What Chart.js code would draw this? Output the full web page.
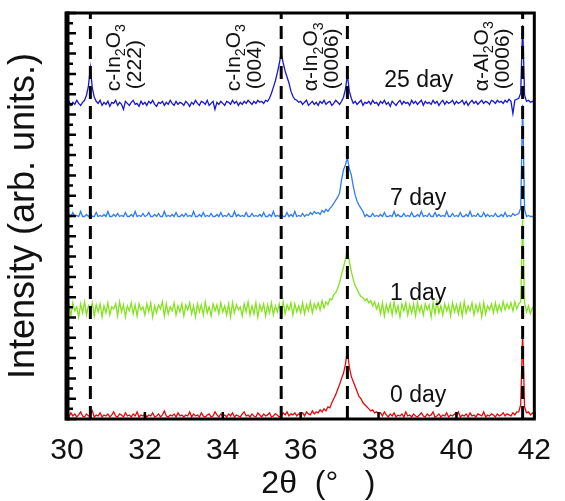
<!DOCTYPE html>
<html>
<head>
<meta charset="utf-8">
<script src="https://cdn.jsdelivr.net/npm/chart.js@4.4.1/dist/chart.umd.min.js"></script>
<style>
  html, body { margin: 0; padding: 0; background: #fff; }
  #wrap { width: 565px; height: 501px; }
</style>
</head>
<body>
<div id="wrap"><canvas id="xrd" width="565" height="501"></canvas></div>
<script>
// 2-theta grid (deg), one row per degree
const twoTheta = [
  30.00, 30.05, 30.10, 30.15, 30.20, 30.25, 30.30, 30.35, 30.40, 30.45, 30.50, 30.55, 30.60, 30.65, 30.70, 30.75, 30.80, 30.85, 30.90, 30.95,
  31.00, 31.05, 31.10, 31.15, 31.20, 31.25, 31.30, 31.35, 31.40, 31.45, 31.50, 31.55, 31.60, 31.65, 31.70, 31.75, 31.80, 31.85, 31.90, 31.95,
  32.00, 32.05, 32.10, 32.15, 32.20, 32.25, 32.30, 32.35, 32.40, 32.45, 32.50, 32.55, 32.60, 32.65, 32.70, 32.75, 32.80, 32.85, 32.90, 32.95,
  33.00, 33.05, 33.10, 33.15, 33.20, 33.25, 33.30, 33.35, 33.40, 33.45, 33.50, 33.55, 33.60, 33.65, 33.70, 33.75, 33.80, 33.85, 33.90, 33.95,
  34.00, 34.05, 34.10, 34.15, 34.20, 34.25, 34.30, 34.35, 34.40, 34.45, 34.50, 34.55, 34.60, 34.65, 34.70, 34.75, 34.80, 34.85, 34.90, 34.95,
  35.00, 35.05, 35.10, 35.15, 35.20, 35.25, 35.30, 35.35, 35.40, 35.45, 35.50, 35.55, 35.60, 35.65, 35.70, 35.75, 35.80, 35.85, 35.90, 35.95,
  36.00, 36.05, 36.10, 36.15, 36.20, 36.25, 36.30, 36.35, 36.40, 36.45, 36.50, 36.55, 36.60, 36.65, 36.70, 36.75, 36.80, 36.85, 36.90, 36.95,
  37.00, 37.05, 37.10, 37.15, 37.20, 37.25, 37.30, 37.35, 37.40, 37.45, 37.50, 37.55, 37.60, 37.65, 37.70, 37.75, 37.80, 37.85, 37.90, 37.95,
  38.00, 38.05, 38.10, 38.15, 38.20, 38.25, 38.30, 38.35, 38.40, 38.45, 38.50, 38.55, 38.60, 38.65, 38.70, 38.75, 38.80, 38.85, 38.90, 38.95,
  39.00, 39.05, 39.10, 39.15, 39.20, 39.25, 39.30, 39.35, 39.40, 39.45, 39.50, 39.55, 39.60, 39.65, 39.70, 39.75, 39.80, 39.85, 39.90, 39.95,
  40.00, 40.05, 40.10, 40.15, 40.20, 40.25, 40.30, 40.35, 40.40, 40.45, 40.50, 40.55, 40.60, 40.65, 40.70, 40.75, 40.80, 40.85, 40.90, 40.95,
  41.00, 41.05, 41.10, 41.15, 41.20, 41.25, 41.30, 41.35, 41.40, 41.45, 41.50, 41.55, 41.60, 41.65, 41.70, 41.75, 41.80, 41.85, 41.90, 41.95,
  42.00
];

// intensities (arb. units), above its own baseline
const day0 = [
  0.3, 0.1, 0.5, 0.2, 0.4, 0.1, 0.3, 0.6, 0.2, 0.1, 0.4, 0.2, 0.3, 0.7, 0.1, 0.3, 0.2, 0.5, 0.1, 0.3,
  0.2, 0.4, 0.1, 0.3, 0.6, 0.2, 0.1, 0.4, 0.3, 0.1, 0.5, 0.2, 0.3, 0.1, 0.4, 0.2, 0.6, 0.1, 0.3, 0.2,
  0.4, 0.1, 0.3, 0.2, 0.5, 0.1, 0.2, 0.4, 0.1, 0.3, 0.7, 0.2, 0.1, 0.3, 0.2, 0.4, 0.1, 0.5, 0.2, 0.3,
  0.1, 0.3, 0.2, 0.6, 0.1, 0.4, 0.2, 0.3, 0.1, 0.5, 0.2, 0.1, 0.3, 0.4, 0.1, 0.2, 0.6, 0.3, 0.1, 0.4,
  0.2, 0.3, 0.1, 0.4, 0.2, 0.5, 0.1, 0.3, 0.2, 0.1, 0.4, 0.6, 0.2, 0.3, 0.1, 0.4, 0.2, 0.1, 0.5, 0.3,
  0.1, 0.4, 0.2, 0.3, 0.5, 0.1, 0.2, 0.4, 0.3, 0.1, 0.2, 0.5, 0.3, 0.6, 0.2, 0.4, 0.3, 0.5, 0.2, 0.4,
  0.3, 0.5, 0.2, 0.6, 0.4, 0.3, 0.7, 0.4, 0.6, 0.5, 0.8, 0.6, 0.9, 0.7, 1.1, 1.0, 1.5, 1.9, 2.3, 2.8,
  3.3, 3.9, 4.4, 5.3, 6.6, 5.0, 4.1, 3.6, 3.1, 2.6, 2.1, 1.9, 1.5, 1.3, 1.1, 0.9, 0.7, 0.8, 0.5, 0.6,
  0.4, 0.5, 0.2, 0.6, 0.3, 0.1, 0.4, 0.2, 0.5, 0.1, 0.3, 0.2, 0.4, 0.1, 0.6, 0.2, 0.3, 0.1, 0.4, 0.2,
  0.1, 0.3, 0.5, 0.2, 0.1, 0.4, 0.2, 0.3, 0.6, 0.1, 0.2, 0.4, 0.1, 0.3, 0.2, 0.5, 0.1, 0.3, 0.2, 0.4,
  0.2, 0.6, 0.1, 0.3, 0.2, 0.4, 0.1, 0.5, 0.2, 0.3, 0.1, 0.4, 0.3, 0.2, 0.6, 0.1, 0.3, 0.2, 0.4, 0.3,
  0.1, 0.4, 0.2, 0.3, 0.5, 0.2, 0.4, 0.3, 0.2, 0.5, 0.3, 0.6, 0.6, 1.3, 8.4, 1.1, 0.5, 0.6, 0.3, 0.5,
  0.3
];
const day1 = [
  0.4, 1.3, 0.2, 1.5, 0.7, 1.1, 0.1, 1.4, 0.5, 1.6, 0.3, 1.2, 0.8, 1.5, 0.2, 1.3, 0.6, 1.4, 0.1, 1.2,
  0.5, 1.5, 0.3, 1.1, 0.9, 1.4, 0.2, 1.6, 0.6, 1.3, 0.1, 1.2, 0.7, 1.5, 0.4, 1.3, 0.2, 1.4, 0.8, 1.1,
  0.3, 1.4, 0.6, 1.5, 0.1, 1.2, 0.5, 1.3, 0.9, 1.6, 0.2, 1.4, 0.4, 1.1, 0.7, 1.5, 0.3, 1.2, 0.6, 1.4,
  0.2, 1.3, 0.8, 1.5, 0.4, 1.2, 0.1, 1.4, 0.6, 1.3, 0.3, 1.6, 0.5, 1.1, 0.2, 1.4, 0.7, 1.3, 0.4, 1.5,
  0.6, 1.2, 0.3, 1.4, 0.1, 1.5, 0.5, 1.3, 0.8, 1.1, 0.2, 1.4, 0.6, 1.6, 0.3, 1.2, 0.4, 1.5, 0.1, 1.3,
  0.7, 1.4, 0.2, 1.3, 0.5, 1.5, 0.3, 1.2, 0.6, 1.4, 0.1, 1.6, 0.4, 1.3, 0.8, 1.5, 0.3, 1.4, 0.6, 1.2,
  0.5, 1.5, 0.4, 1.3, 0.7, 1.6, 0.5, 1.4, 0.9, 1.5, 0.8, 1.7, 1.0, 1.6, 1.3, 1.9, 1.8, 2.3, 2.5, 2.9,
  3.5, 4.3, 5.0, 5.8, 6.7, 5.6, 4.6, 3.8, 3.2, 2.8, 2.4, 2.1, 2.0, 1.7, 1.9, 1.5, 1.7, 1.2, 1.6, 0.9,
  1.4, 0.4, 1.5, 0.2, 1.3, 0.6, 1.4, 0.3, 1.6, 0.5, 1.2, 0.1, 1.4, 0.7, 1.5, 0.3, 1.3, 0.5, 1.4, 0.2,
  1.5, 0.6, 1.2, 0.3, 1.4, 0.8, 1.3, 0.1, 1.5, 0.4, 1.6, 0.5, 1.2, 0.3, 1.4, 0.7, 1.3, 0.2, 1.5, 0.6,
  1.3, 0.4, 1.4, 0.2, 1.6, 0.5, 1.2, 0.7, 1.5, 0.3, 1.3, 0.6, 1.4, 0.1, 1.5, 0.4, 1.2, 0.8, 1.4, 0.5,
  1.5, 0.6, 1.3, 0.7, 1.6, 0.8, 1.4, 0.9, 1.5, 0.7, 1.6, 0.9, 1.4, 1.6, 9.7, 1.5, 0.6, 1.2, 0.4, 1.0,
  0.8
];
const day7 = [
  0.1, 0.3, 0.1, 0.5, 0.1, 0.2, 0.1, 0.6, 0.1, 0.1, 0.3, 0.1, 0.4, 0.1, 0.1, 0.5, 0.1, 0.2, 0.1, 0.3,
  0.1, 0.6, 0.1, 0.1, 0.3, 0.1, 0.4, 0.1, 0.2, 0.1, 0.5, 0.1, 0.1, 0.3, 0.1, 0.6, 0.1, 0.2, 0.1, 0.4,
  0.1, 0.2, 0.5, 0.1, 0.1, 0.3, 0.1, 0.4, 0.1, 0.1, 0.6, 0.1, 0.2, 0.1, 0.3, 0.1, 0.5, 0.1, 0.1, 0.3,
  0.1, 0.4, 0.1, 0.2, 0.1, 0.6, 0.1, 0.1, 0.3, 0.1, 0.5, 0.1, 0.2, 0.1, 0.4, 0.1, 0.1, 0.3, 0.1, 0.5,
  0.1, 0.2, 0.1, 0.4, 0.1, 0.1, 0.6, 0.1, 0.3, 0.1, 0.2, 0.1, 0.5, 0.1, 0.1, 0.4, 0.1, 0.2, 0.1, 0.3,
  0.1, 0.5, 0.1, 0.1, 0.3, 0.1, 0.6, 0.1, 0.2, 0.1, 0.4, 0.1, 0.1, 0.5, 0.1, 0.3, 0.1, 0.6, 0.1, 0.2,
  0.1, 0.4, 0.1, 0.3, 0.2, 0.5, 0.3, 0.6, 0.4, 0.5, 0.3, 0.7, 0.5, 0.8, 0.6, 0.9, 1.1, 1.4, 1.7, 2.0,
  2.4, 3.7, 4.7, 5.2, 5.85, 4.8, 4.2, 3.1, 2.2, 1.6, 1.2, 0.9, 0.6, 0.1, 0.3, 0.1, 0.1, 0.4, 0.1, 0.2,
  0.1, 0.3, 0.1, 0.5, 0.1, 0.1, 0.2, 0.1, 0.6, 0.1, 0.3, 0.1, 0.1, 0.4, 0.1, 0.2, 0.1, 0.5, 0.1, 0.1,
  0.3, 0.1, 0.6, 0.1, 0.2, 0.1, 0.4, 0.1, 0.1, 0.5, 0.1, 0.3, 0.1, 0.2, 0.1, 0.6, 0.1, 0.1, 0.4, 0.1,
  0.2, 0.1, 0.5, 0.1, 0.1, 0.3, 0.1, 0.6, 0.1, 0.2, 0.1, 0.4, 0.1, 0.1, 0.5, 0.1, 0.3, 0.1, 0.2, 0.1,
  0.4, 0.1, 0.1, 0.3, 0.1, 0.5, 0.1, 0.2, 0.1, 0.4, 0.2, 0.3, 0.4, 0.9, 11.1, 0.8, 0.1, 0.2, 0.1, 0.1,
  0.1
];
const day25 = [
  0.4, 0.6, 0.2, 0.5, 0.3, 0.7, 0.4, 0.2, 0.5, 0.7, 1.2, 2.1, 3.9, 1.9, 1.0, 0.6, 0.4, 0.7, 0.2, 0.5,
  0.3, 0.6, 0.1, 0.5, 0.4, 0.7, 0.2, 0.5, 0.3, -0.2, 0.6, 0.4, 0.2, 0.5, 0.7, 0.3, 0.4, 0.1, 0.6, 0.3,
  0.5, 0.2, 0.6, 0.4, 0.7, 0.3, 0.1, 0.5, 0.4, 0.6, 0.2, 0.5, 0.3, 0.7, 0.4, 0.2, 0.6, 0.3, 0.5, 0.4,
  0.2, 0.6, 0.4, 0.1, 0.5, 0.3, 0.7, 0.4, 0.2, 0.6, 0.5, 0.3, 0.7, 0.2, 0.4, 0.6, -0.2, 0.5, 0.3, 0.6,
  0.4, 0.2, 0.6, 0.5, 0.3, 0.7, 0.4, 0.6, 0.2, 0.5, 0.3, 0.6, 0.4, 0.7, 0.5, 0.3, 0.6, 0.4, 0.7, 0.5,
  0.6, 0.4, 0.7, 0.6, 0.9, 1.4, 2.0, 2.6, 3.4, 4.3, 5.35, 4.4, 3.6, 3.0, 2.4, 1.6, 1.1, 0.8, 0.7, 0.5,
  0.6, 0.3, 0.5, 0.7, 0.2, 0.4, 0.6, 0.3, 0.5, 0.2, 0.6, 0.4, 0.7, 0.3, 0.5, 0.6, 0.2, 0.4, 0.7, 0.5,
  0.3, 0.6, 1.0, 1.8, 3.2, 1.6, 0.9, 0.4, 0.6, 0.3, 0.5, 0.7, 0.2, 0.5, 0.4, 0.6, 0.3, 0.7, 0.4, 0.5,
  0.2, 0.6, 0.4, 0.7, 0.3, 0.5, 0.1, 0.6, 0.4, 0.2, 0.5, 0.7, 0.3, 0.6, 0.4, 0.5, 0.2, 0.7, 0.4, 0.6,
  0.3, 0.5, 0.7, 0.2, 0.6, 0.4, 0.5, 0.3, 0.7, 0.4, 0.6, 0.2, 0.5, 0.7, 0.3, 0.6, 0.4, 0.5, 0.7, 0.3,
  0.6, 0.4, 0.5, 0.7, 0.3, 0.6, 0.2, 0.5, 0.7, 0.4, 0.6, 0.3, 0.5, 0.7, 0.4, 0.6, 0.5, 0.3, 0.7, 0.6,
  0.4, 0.7, 0.5, 0.6, 0.4, 0.7, 0.5, 0.8, 0.6, -0.6, 0.7, 0.8, 0.9, 1.4, 8.1, 1.2, 0.6, 0.7, 0.5, 0.6,
  0.5
];

const seriesNames = ['0 day', '1 day', '7 day', '25 day'];
const seriesValues = [day0, day1, day7, day25];
const seriesOffsets = [0.1, 9.95, 19.85, 30.7];
const seriesColors = ['#e60a0a', '#84e21f', '#2e7df5', '#1616d4'];

// reference reflections (deg)
const peakPositions = [30.6, 35.5, 37.2, 41.7];
const peakPhases = [
  [['c-In'], ['2', true], ['O'], ['3', true]],
  [['c-In'], ['2', true], ['O'], ['3', true]],
  [['\u03b1-In'], ['2', true], ['O'], ['3', true]],
  [['\u03b1-Al'], ['2', true], ['O'], ['3', true]]
];
const peakIndices = ['(222)', '(004)', '(0006)', '(0006)'];

const xMin = 30, xMax = 42, xStep = 2;
const yMin = 0, yMax = 40;

const FONT = '"Liberation Sans", Arial, Helvetica, sans-serif';

const datasets = seriesValues.map((vals, s) => ({
    label: seriesNames[s],
    data: twoTheta.map((t, i) => ({ x: t, y: vals[i] + seriesOffsets[s] })),
    borderColor: seriesColors[s],
    borderWidth: 1.3,
    pointRadius: 0,
    tension: 0,
    order: 2
}));

peakPositions.forEach(p => {
    datasets.push({
        data: [{ x: p, y: yMin }, { x: p, y: yMax }],
        borderColor: '#000',
        borderWidth: 3,
        borderDash: [13, 7],
        pointRadius: 0,
        order: 1
    });
});

function drawFormula(ctx, parts, size) {
    let x = 0;
    parts.forEach(([txt, sub]) => {
        const fs = sub ? size * 0.68 : size;
        ctx.font = `${fs}px ${FONT}`;
        ctx.fillText(txt, x, sub ? size * 0.28 : 0);
        x += ctx.measureText(txt).width;
    });
}

// inward ticks, frame and text annotations
const decorations = {
    id: 'decorations',
    afterDraw(chart) {
        const { ctx, chartArea: a, scales: { x, y } } = chart;
        ctx.save();
        ctx.strokeStyle = '#000';
        ctx.lineWidth = 2.5;
        ctx.beginPath();
        y.ticks.forEach((t, i) => {
            const py = y.getPixelForValue(t.value);
            ctx.moveTo(a.left, py);
            ctx.lineTo(a.left + (i % 2 ? 6 : 9), py);
        });
        x.ticks.forEach(t => {
            const px = x.getPixelForValue(t.value);
            ctx.moveTo(px, a.bottom);
            ctx.lineTo(px, a.bottom - 7);
        });
        ctx.stroke();

        ctx.lineWidth = 3;
        ctx.strokeRect(a.left, a.top, a.right - a.left, a.bottom - a.top);
        ctx.lineWidth = 5;
        ctx.beginPath();
        ctx.moveTo(a.left, a.top - 1.5);
        ctx.lineTo(a.left, a.bottom + 1.5);
        ctx.stroke();

        // day labels
        ctx.fillStyle = '#111';
        ctx.font = `23px ${FONT}`;
        ctx.textAlign = 'right';
        ctx.textBaseline = 'alphabetic';
        const dayX = [39.74, 39.74, 39.74, 39.92];
        const dayY = [1.7, 11.7, 21.1, 32.7];
        seriesNames.forEach((n, s) => {
            ctx.fillText(n, x.getPixelForValue(dayX[s]), y.getPixelForValue(dayY[s]));
        });

        // rotated phase labels
        const labelX = [31.35, 34.43, 36.41, 40.80];
        ctx.textAlign = 'left';
        peakPhases.forEach((parts, k) => {
            ctx.save();
            ctx.translate(x.getPixelForValue(labelX[k]), y.getPixelForValue(32.3));
            ctx.rotate(-Math.PI / 2);
            drawFormula(ctx, parts, 21);
            ctx.restore();
            ctx.save();
            ctx.translate(x.getPixelForValue(labelX[k] + 0.55), y.getPixelForValue(32.5));
            ctx.rotate(-Math.PI / 2);
            ctx.font = `21px ${FONT}`;
            ctx.fillText(peakIndices[k], 0, 0);
            ctx.restore();
        });
        ctx.restore();
    }
};

new Chart(document.getElementById('xrd'), {
    type: 'line',
    data: { datasets },
    plugins: [decorations],
    options: {
        responsive: false,
        animation: false,
        events: [],
        layout: { padding: { top: 13, right: 20, left: 0, bottom: 0 } },
        plugins: { legend: { display: false }, tooltip: { enabled: false } },
        scales: {
            x: {
                type: 'linear',
                min: xMin,
                max: xMax,
                afterFit: s => { s.height = 82; },
                grid: { display: false, drawTicks: false },
                border: { display: false },
                ticks: {
                    stepSize: xStep,
                    padding: 14,
                    color: '#111',
                    font: { family: FONT, size: 30 },
                    maxRotation: 0
                },
                title: {
                    display: true,
                    text: '    2\u03b8  (\u00b0   )',
                    color: '#111',
                    font: { family: FONT, size: 32, lineHeight: 1 },
                    padding: { top: 0, bottom: 1 }
                }
            },
            y: {
                min: yMin,
                max: yMax,
                afterFit: s => { s.width = 67; },
                grid: { display: false, drawTicks: false },
                border: { display: false },
                ticks: { stepSize: 1, display: false },
                title: {
                    display: true,
                    text: 'Intensity (arb. units.)',
                    color: '#111',
                    font: { family: FONT, size: 36, lineHeight: 1 },
                    padding: { top: 6, bottom: 0 }
                }
            }
        }
    }
});
</script>
</body>
</html>
